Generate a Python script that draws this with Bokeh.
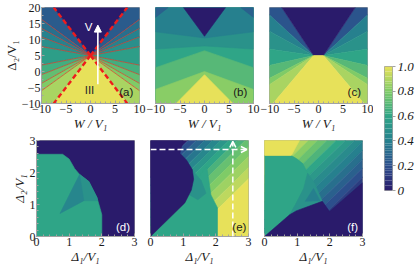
import numpy as np
from bokeh.plotting import figure
from bokeh.layouts import row, column
from bokeh.models import Range1d, FixedTicker, Label, Arrow, NormalHead, OpenHead
from bokeh.embed import file_html
from bokeh.resources import INLINE

# ---------------- colour scale ----------------
CMAP_STOPS = [0.0, 0.2, 0.4, 0.6, 0.8, 1.0]
CMAP_COLORS = ["#2a1b6b", "#2c4f8c", "#26808e", "#2fa587", "#7fcb67", "#e7e15a"]

TOP_W_TICKS = [-10, -5, 0, 5, 10]
TOP_D2_TICKS = [-10, -5, 0, 5, 10, 15, 20]
BOT_TICKS = [0, 1, 2, 3]
CB_TICKS = [0, 0.2, 0.4, 0.6, 0.8, 1.0]
CB_LABELS = ["0", "0.2", "0.4", "0.6", "0.8", "1.0"]
CB_LEVELS = 50

# ---------------- panel (a) ----------------
A_VERTEX = (0.0, 5.0)
A_RAY_W = [-7.5, -10.0, -10.0, -10.0, -10.0, -10.0, -10.0, -10.0, -10.0, -7.5]
A_RAY_D2 = [20.0, 16.3, 13.5, 10.8, 7.8, 2.0, -1.0, -3.7, -6.0, -10.0]
A_BAND_VAL = [0.25, 0.33, 0.41, 0.48, 0.56, 0.65, 0.73, 0.80, 0.88]
A_DARK_W = [0.0, -7.5, 7.5]
A_DARK_D2 = [5.0, 20.0, 20.0]
A_YEL_W = [0.0, -7.5, 7.5]
A_YEL_D2 = [5.0, -10.0, -10.0]
A_ARROW = (1.5, -4.0, 1.5, 14.5)

# ---------------- panel (b) ----------------
B_LAYER_W = [
    [-10, 10, 10, -10],
    [-10, 10, 10, 0, -10],
    [-10, 10, 10, 0, -10],
    [-10, -7.4, -10],
    [10, 7.4, 10],
    [-10, 10, 10, 0, -10],
    [-10, 10, 10, 0, -10],
    [-5.8, 5.8, 0],
    [-4.3, 4.3, 0],
]
B_LAYER_D2 = [
    [-10, -10, 20, 20],
    [20, 20, 7, 8, 7],
    [20, 20, 12.4, 10.5, 12.4],
    [20, 20, 16.9],
    [20, 20, 16.9],
    [-10, -10, 1.2, 6.5, 1.2],
    [-10, -10, -5.6, 0, -5.6],
    [-10, -10, -1],
    [20, 20, 11],
]
B_LAYER_VAL = [0.6, 0.5, 0.4, 0.27, 0.27, 0.7, 0.82, 1.0, 0.0]

# ---------------- panel (c) ----------------
C_VERTEX = (-1.0, 5.0)
C_RAY_W = [-7.5, -10.0, -10.0, -10.0, -10.0, -10.0, -10.0, -9.3]
C_RAY_D2 = [20.0, 17.7, 12.6, 7.0, 1.9, -2.1, -4.1, -10.0]
C_BAND_VAL = [0.22, 0.4, 0.5, 0.6, 0.7, 0.8, 0.88]
C_DARK_W = [-1.0, 1.0, 7.5, -7.5]
C_DARK_D2 = [5.0, 5.0, 20.0, 20.0]
C_YEL_W = [-1.0, 1.0, 9.3, -9.3]
C_YEL_D2 = [5.0, 5.0, -10.0, -10.0]

# ---------------- panel (d) ----------------
D_LAYER_D1 = [
    [0, 3, 3, 0],
    [0, 0, 0.8, 1.0, 1.17, 1.32, 1.6, 1.85, 1.95, 2.0, 2.0],
    [1.32, 1.6, 1.85, 1.87, 1.45],
    [1.32, 0.72, 1.45],
]
D_LAYER_D2 = [
    [0, 0, 3, 3],
    [0, 2.57, 2.57, 2.42, 2.12, 1.94, 1.72, 1.22, 0.87, 0.68, 0],
    [1.94, 1.72, 1.22, 1.12, 1.12],
    [1.94, 0.72, 1.12],
]
D_LAYER_VAL = [0.0, 0.6, 0.5, 0.43]

# ---------------- panel (e) ----------------
E_STRIPE_C = [1.85, 1.6, 1.35, 1.1, 0.85, 0.6, 0.35, 0.1, -0.2, -0.5, -0.85, -1.2]
E_STRIPE_VAL = [0.0, 0.2, 0.28, 0.36, 0.44, 0.52, 0.6, 0.67, 0.74, 0.8, 0.86, 0.92, 1.0]
E_LAYER_D1 = [
    [0, 2.05, 2.05, 1.85, 1.72, 1.5, 1.32, 1.25, 1.05],
    [1.3, 1.55, 1.7, 1.45, 1.2],
    [0, 1.0, 0.9, 1.1, 1.28, 1.32, 1.25, 1.05, 0],
]
E_LAYER_D2 = [
    [0, 0, 0.9, 1.3, 2.2, 1.9, 1.79, 1.45, 1.05],
    [2.05, 1.75, 1.35, 1.15, 1.3],
    [3, 3, 2.6, 2.39, 2.09, 1.79, 1.45, 1.05, 0],
]
E_LAYER_VAL = [0.6, 0.5, 0.0]
E_ARROW_H = (0.0, 2.72, 2.95, 2.72)
E_ARROW_V = (2.52, 0.0, 2.52, 2.97)

# ---------------- panel (f) ----------------
F_STRIPE_C = [1.93, 1.65, 1.37, 1.09, 0.81, 0.53, 0.25, -0.03, -0.31, -0.59, -0.87, -1.15]
F_STRIPE_VAL = [1.0, 0.9, 0.82, 0.75, 0.68, 0.6, 0.53, 0.46, 0.4, 0.33, 0.27, 0.2, 0.13]
F_LAYER_D1 = [
    [0, 0, 0.82, 1.0, 1.17, 1.32, 1.2, 0.95, 0.77],
    [1.32, 1.52, 1.77, 0.97, 0.77, 0.95, 1.2],
    [1.25, 1.5, 1.7],
    [0, 0.77, 0.97, 1.77, 1.99, 3, 3],
    [0, 1.07, 0.82, 0],
]
F_LAYER_D2 = [
    [0, 2.53, 2.53, 2.42, 2.28, 1.98, 1.5, 1.0, 0.68],
    [1.98, 1.68, 1.1, 0.8, 0.68, 1.0, 1.5],
    [1.1, 1.5, 1.12],
    [0, 0.68, 0.8, 1.1, 0.78, 1.68, 0],
    [3, 3, 2.53, 2.53],
]
F_LAYER_VAL = [0.6, 0.5, 0.4, 0.0, 1.0]


# ---------------- helpers ----------------
def _rgb(h):
    return [int(h[i:i + 2], 16) for i in (1, 3, 5)]


_CM = np.array([_rgb(c) for c in CMAP_COLORS], dtype=float)


def cmap(v):
    r, g, b = (int(round(np.interp(v, CMAP_STOPS, _CM[:, k]))) for k in range(3))
    return "#%02x%02x%02x" % (r, g, b)


FRAME = "#a3a3a3"
SERIF = "Liberation Serif"
FW, FH = 98, 96


def make_panel(xr, yr, left, right, top, bottom, show_y):
    p = figure(x_range=Range1d(*xr), y_range=Range1d(*yr),
               frame_width=FW, frame_height=FH,
               min_border_left=left, min_border_right=right,
               min_border_top=top, min_border_bottom=bottom,
               toolbar_location=None, output_backend="svg",
               y_axis_location="left" if show_y else None)
    p.grid.visible = False
    p.outline_line_color = FRAME
    p.outline_line_width = 1
    for ax in p.axis:
        ax.axis_line_color = FRAME
        ax.major_tick_line_color = FRAME
        ax.minor_tick_line_color = FRAME
        ax.major_tick_in = 3
        ax.major_tick_out = 0
        ax.minor_tick_in = 2
        ax.minor_tick_out = 0
        ax.major_label_text_font = SERIF
        ax.major_label_text_font_size = "12px"
        ax.major_label_text_color = "#1a1a1a"
        ax.major_label_standoff = 1
        ax.axis_label_standoff = 0
        ax.axis_label_text_font = SERIF
        ax.axis_label_text_font_size = "13px"
        ax.axis_label_text_color = "#1a1a1a"
    return p


def neg_overrides(ticks):
    return {t: ("\u2212%g" % abs(t)) if t < 0 else "%g" % t for t in ticks}


def draw_patches(p, xs, ys, vals):
    cols = [cmap(v) for v in vals]
    p.patches(xs=[list(x) for x in xs], ys=[list(y) for y in ys],
              fill_color=cols, line_color=cols, line_width=0.6)


def fan(vx, vy, ex, ey, k=4.0):
    xs, ys = [], []
    for i in range(len(ex) - 1):
        xs.append([vx, vx + k * (ex[i] - vx), vx + k * (ex[i + 1] - vx)])
        ys.append([vy, vy + k * (ey[i] - vy), vy + k * (ey[i + 1] - vy)])
    return xs, ys


def stripes(cs, lo=-6.0, hi=9.0, big=20.0):
    edges = [big] + list(cs) + [-big]
    xs, ys = [], []
    for i in range(len(edges) - 1):
        c1, c2 = edges[i], edges[i + 1]
        xs.append([lo, hi, hi, lo])
        ys.append([lo + c1, hi + c1, hi + c2, lo + c2])
    return xs, ys


def panel_label(p, x, y, text, color):
    p.add_layout(Label(x=x, y=y, text=text, text_align="center",
                       text_baseline="middle", text_font="Liberation Sans",
                       text_font_size="11.5px", text_color=color))


TOP_MINOR_W = list(range(-10, 11))
TOP_MINOR_D2 = [v * 2.5 for v in range(-4, 9)]
BOT_MINOR = [v / 5 for v in range(0, 16)]

TOP_T, TOP_B = 7, 29
BOT_T, BOT_B = 7, 30

# ---------------- (a) ----------------
fa = make_panel((-10, 10), (-10, 20), 36, 7, TOP_T, TOP_B, True)
fa.xaxis.ticker = FixedTicker(ticks=TOP_W_TICKS, minor_ticks=TOP_MINOR_W)
fa.yaxis.ticker = FixedTicker(ticks=TOP_D2_TICKS, minor_ticks=TOP_MINOR_D2)
fa.xaxis.major_label_overrides = neg_overrides(TOP_W_TICKS)
fa.yaxis.major_label_overrides = neg_overrides(TOP_D2_TICKS)
fa.xaxis.axis_label = "W / V\u2081"
fa.xaxis.axis_label_text_font_style = "italic"
fa.yaxis.axis_label = "\u0394\u2082/V\u2081"
fa.yaxis.axis_label_text_font_style = "normal"

vx, vy = A_VERTEX
for sgn in (-1, 1):
    ex = [sgn * w for w in A_RAY_W]
    xs, ys = fan(vx, vy, ex, A_RAY_D2)
    draw_patches(fa, xs, ys, A_BAND_VAL)
draw_patches(fa, [A_DARK_W], [A_DARK_D2], [0.0])
draw_patches(fa, [A_YEL_W], [A_YEL_D2], [1.0])
inner_w = A_RAY_W[1:-1] + [-w for w in A_RAY_W[1:-1]]
inner_d = A_RAY_D2[1:-1] + A_RAY_D2[1:-1]
fa.segment(x0=[vx] * len(inner_w), y0=[vy] * len(inner_w), x1=inner_w, y1=inner_d,
           line_color="#d9342b", line_width=0.8, line_alpha=0.85)
cone_w = [A_RAY_W[0], -A_RAY_W[0], A_RAY_W[-1], -A_RAY_W[-1]]
cone_d = [A_RAY_D2[0], A_RAY_D2[0], A_RAY_D2[-1], A_RAY_D2[-1]]
fa.segment(x0=[vx] * 4, y0=[vy] * 4, x1=cone_w, y1=cone_d,
           line_color="#ee1c1c", line_width=2.4, line_dash="5 3")
fa.add_layout(Arrow(end=NormalHead(size=7, fill_color="white", line_color="white"),
                    x_start=A_ARROW[0], y_start=A_ARROW[1], x_end=A_ARROW[2], y_end=A_ARROW[3],
                    line_color="white", line_width=1.6))
fa.add_layout(Label(x=-0.4, y=13.8, text="V", text_align="center", text_baseline="middle",
                    text_font="Liberation Sans", text_font_size="11.5px", text_color="white"))
fa.add_layout(Label(x=-0.2, y=-5.9, text="III", text_align="center", text_baseline="middle",
                    text_font="Liberation Sans", text_font_size="11.5px", text_color="#2a2a2a"))
panel_label(fa, 7.3, -6.5, "(a)", "#1a1a1a")

# ---------------- (b) ----------------
fb = make_panel((-10, 10), (-10, 20), 9, 7, TOP_T, TOP_B, False)
fb.xaxis.ticker = FixedTicker(ticks=TOP_W_TICKS, minor_ticks=TOP_MINOR_W)
fb.xaxis.major_label_overrides = neg_overrides(TOP_W_TICKS)
fb.xaxis.axis_label = "W / V\u2081"
fb.xaxis.axis_label_text_font_style = "italic"
draw_patches(fb, B_LAYER_W, B_LAYER_D2, B_LAYER_VAL)
panel_label(fb, 7.3, -6.5, "(b)", "#1a1a1a")

# ---------------- (c) ----------------
fc = make_panel((-10, 10), (-10, 20), 9, 6, TOP_T, TOP_B, False)
fc.xaxis.ticker = FixedTicker(ticks=TOP_W_TICKS, minor_ticks=TOP_MINOR_W)
fc.xaxis.major_label_overrides = neg_overrides(TOP_W_TICKS)
fc.xaxis.axis_label = "W / V\u2081"
fc.xaxis.axis_label_text_font_style = "italic"
cvx, cvy = C_VERTEX
for sgn in (-1, 1):
    xs, ys = fan(sgn * cvx, cvy, [sgn * w for w in C_RAY_W], C_RAY_D2)
    draw_patches(fc, xs, ys, C_BAND_VAL)
draw_patches(fc, [C_DARK_W], [C_DARK_D2], [0.0])
draw_patches(fc, [C_YEL_W], [C_YEL_D2], [1.0])
panel_label(fc, 7.3, -6.5, "(c)", "#1a1a1a")


def bottom_axes(p, show_y):
    p.xaxis.ticker = FixedTicker(ticks=BOT_TICKS, minor_ticks=BOT_MINOR)
    p.xaxis.axis_label = "\u0394\u2081/V\u2081"
    if show_y:
        p.yaxis.ticker = FixedTicker(ticks=BOT_TICKS, minor_ticks=BOT_MINOR)
        p.yaxis.axis_label = "\u0394\u2082/V\u2081"


# ---------------- (d) ----------------
fd = make_panel((0, 3), (0, 3), 36, 7, BOT_T, BOT_B, True)
bottom_axes(fd, True)
draw_patches(fd, D_LAYER_D1, D_LAYER_D2, D_LAYER_VAL)
panel_label(fd, 2.65, 0.3, "(d)", "white")

# ---------------- (e) ----------------
fe = make_panel((0, 3), (0, 3), 9, 7, BOT_T, BOT_B, False)
bottom_axes(fe, False)
xs, ys = stripes(E_STRIPE_C)
draw_patches(fe, xs, ys, E_STRIPE_VAL)
draw_patches(fe, E_LAYER_D1, E_LAYER_D2, E_LAYER_VAL)
for a in (E_ARROW_H, E_ARROW_V):
    fe.add_layout(Arrow(end=OpenHead(size=6, line_color="white", line_width=1.5),
                        x_start=a[0], y_start=a[1], x_end=a[2], y_end=a[3],
                        line_color="white", line_width=1.5, line_dash="6 3"))
panel_label(fe, 2.72, 0.3, "(e)", "#1a1a1a")

# ---------------- (f) ----------------
ff = make_panel((0, 3), (0, 3), 9, 6, BOT_T, BOT_B, False)
bottom_axes(ff, False)
xs, ys = stripes(F_STRIPE_C)
draw_patches(ff, xs, ys, F_STRIPE_VAL)
draw_patches(ff, F_LAYER_D1, F_LAYER_D2, F_LAYER_VAL)
panel_label(ff, 2.7, 0.3, "(f)", "white")

# ---------------- colour bar ----------------
cb = figure(x_range=Range1d(0, 1), y_range=Range1d(0, 1),
            frame_width=8, frame_height=124,
            min_border_left=11, min_border_right=0, min_border_top=66, min_border_bottom=10,
            toolbar_location=None, output_backend="svg",
            x_axis_location=None, y_axis_location="right")
cb.grid.visible = False
cb.outline_line_color = FRAME
lv = np.linspace(0, 1, CB_LEVELS + 1)
cb.quad(left=0, right=1, bottom=lv[:-1], top=lv[1:],
        fill_color=[cmap((a + b) / 2) for a, b in zip(lv[:-1], lv[1:])],
        line_color=None)
ya = cb.yaxis[0]
ya.ticker = FixedTicker(ticks=CB_TICKS)
ya.major_label_overrides = dict(zip(CB_TICKS, CB_LABELS))
ya.axis_line_color = None
ya.major_tick_line_color = FRAME
ya.major_tick_in = 0
ya.major_tick_out = 3
ya.minor_tick_line_color = None
ya.major_label_standoff = 2
ya.major_label_text_font = SERIF
ya.major_label_text_font_size = "13px"
ya.major_label_text_font_style = "italic"
ya.major_label_text_color = "#1a1a1a"

layout = row(column(row(fa, fb, fc), row(fd, fe, ff)), cb)

open("out.html", "w").write(file_html(layout, INLINE))
